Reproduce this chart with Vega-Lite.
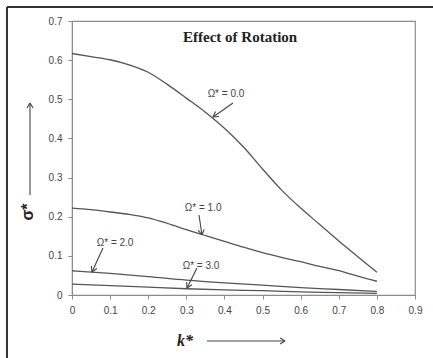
{
  "$schema": "https://vega.github.io/schema/vega-lite/v6.json",
  "width": 343,
  "height": 274,
  "autosize": "none",
  "padding": {"left": 72, "top": 21, "right": 18, "bottom": 63},
  "background": "white",
  "config": {
    "view": {"stroke": "#8c8c8c", "strokeWidth": 1.2},
    "axis": {
      "grid": false,
      "domainColor": "#8c8c8c",
      "tickColor": "#8c8c8c",
      "tickSize": 4,
      "labelFont": "Liberation Sans",
      "labelFontSize": 10,
      "labelColor": "#444",
      "labelPadding": 6,
      "labelOverlap": false,
      "labelFlush": false
    }
  },
  "datasets": {
    "curves": [
      {"omega": "0.0", "k": 0, "s": 0.617}, {"omega": "0.0", "k": 0.05, "s": 0.609}, {"omega": "0.0", "k": 0.1, "s": 0.601}, {"omega": "0.0", "k": 0.15, "s": 0.588}, {"omega": "0.0", "k": 0.2, "s": 0.569}, {"omega": "0.0", "k": 0.25, "s": 0.538}, {"omega": "0.0", "k": 0.3, "s": 0.503}, {"omega": "0.0", "k": 0.35, "s": 0.467}, {"omega": "0.0", "k": 0.4, "s": 0.426}, {"omega": "0.0", "k": 0.45, "s": 0.378}, {"omega": "0.0", "k": 0.5, "s": 0.322}, {"omega": "0.0", "k": 0.55, "s": 0.268}, {"omega": "0.0", "k": 0.6, "s": 0.222}, {"omega": "0.0", "k": 0.65, "s": 0.18}, {"omega": "0.0", "k": 0.7, "s": 0.138}, {"omega": "0.0", "k": 0.75, "s": 0.098}, {"omega": "0.0", "k": 0.8, "s": 0.058},
      {"omega": "1.0", "k": 0, "s": 0.222}, {"omega": "1.0", "k": 0.05, "s": 0.218}, {"omega": "1.0", "k": 0.1, "s": 0.212}, {"omega": "1.0", "k": 0.15, "s": 0.206}, {"omega": "1.0", "k": 0.2, "s": 0.197}, {"omega": "1.0", "k": 0.25, "s": 0.183}, {"omega": "1.0", "k": 0.3, "s": 0.167}, {"omega": "1.0", "k": 0.35, "s": 0.152}, {"omega": "1.0", "k": 0.4, "s": 0.137}, {"omega": "1.0", "k": 0.45, "s": 0.122}, {"omega": "1.0", "k": 0.5, "s": 0.108}, {"omega": "1.0", "k": 0.55, "s": 0.096}, {"omega": "1.0", "k": 0.6, "s": 0.085}, {"omega": "1.0", "k": 0.65, "s": 0.073}, {"omega": "1.0", "k": 0.7, "s": 0.062}, {"omega": "1.0", "k": 0.75, "s": 0.048}, {"omega": "1.0", "k": 0.8, "s": 0.035},
      {"omega": "2.0", "k": 0, "s": 0.062}, {"omega": "2.0", "k": 0.1, "s": 0.055}, {"omega": "2.0", "k": 0.2, "s": 0.047}, {"omega": "2.0", "k": 0.3, "s": 0.038}, {"omega": "2.0", "k": 0.4, "s": 0.031}, {"omega": "2.0", "k": 0.5, "s": 0.025}, {"omega": "2.0", "k": 0.6, "s": 0.019}, {"omega": "2.0", "k": 0.7, "s": 0.014}, {"omega": "2.0", "k": 0.8, "s": 0.009},
      {"omega": "3.0", "k": 0, "s": 0.028}, {"omega": "3.0", "k": 0.1, "s": 0.024}, {"omega": "3.0", "k": 0.2, "s": 0.02}, {"omega": "3.0", "k": 0.3, "s": 0.016}, {"omega": "3.0", "k": 0.4, "s": 0.013}, {"omega": "3.0", "k": 0.5, "s": 0.011}, {"omega": "3.0", "k": 0.6, "s": 0.008}, {"omega": "3.0", "k": 0.7, "s": 0.006}, {"omega": "3.0", "k": 0.8, "s": 0.004}
    ],
    "arrows": [
      {"k": 0.4225, "s": 0.4905, "k2": 0.370, "s2": 0.4548},
      {"k": 0.370, "s": 0.4548, "k2": 0.3857, "s2": 0.456},
      {"k": 0.370, "s": 0.4548, "k2": 0.3765, "s2": 0.4686},
      {"k": 0.3332, "s": 0.2044, "k2": 0.3411, "s2": 0.1533},
      {"k": 0.3411, "s": 0.1533, "k2": 0.3469, "s2": 0.1676},
      {"k": 0.3411, "s": 0.1533, "k2": 0.3314, "s2": 0.1653},
      {"k": 0.0813, "s": 0.1201, "k2": 0.0525, "s2": 0.0588},
      {"k": 0.0525, "s": 0.0588, "k2": 0.0653, "s2": 0.0677},
      {"k": 0.0525, "s": 0.0588, "k2": 0.0509, "s2": 0.0741},
      {"k": 0.328, "s": 0.069, "k2": 0.3018, "s2": 0.0179},
      {"k": 0.3018, "s": 0.0179, "k2": 0.3149, "s2": 0.0263},
      {"k": 0.3018, "s": 0.0179, "k2": 0.3007, "s2": 0.0332},
      {"k": 0.354, "s": -0.1175, "k2": 0.559, "s2": -0.1175},
      {"k": 0.559, "s": -0.1175, "k2": 0.5459, "s2": -0.11},
      {"k": 0.559, "s": -0.1175, "k2": 0.5459, "s2": -0.125},
      {"k": -0.1102, "s": 0.2555, "k2": -0.1102, "s2": 0.4905},
      {"k": -0.1102, "s": 0.4905, "k2": -0.118, "s2": 0.478},
      {"k": -0.1102, "s": 0.4905, "k2": -0.1024, "s2": 0.478}
    ],
    "frame": [
      {"k": -0.1706, "s": -0.17, "k2": -0.1706, "s2": 0.7358},
      {"k": -0.1706, "s": 0.7358, "k2": 0.95, "s2": 0.7358}
    ],
    "labels": [
      {"k": 0.404, "s": 0.5135, "text": "Ω* = 0.0"},
      {"k": 0.344, "s": 0.2223, "text": "Ω* = 1.0"},
      {"k": 0.113, "s": 0.1329, "text": "Ω* = 2.0"},
      {"k": 0.3385, "s": 0.0741, "text": "Ω* = 3.0"}
    ]
  },
  "encoding": {
    "x": {"field": "k", "type": "quantitative", "scale": {"domain": [0, 0.9], "nice": false},
      "axis": {"values": [0, 0.1, 0.2, 0.3, 0.4, 0.5, 0.6, 0.7, 0.8, 0.9], "labelExpr": "datum.value == 0 ? '0' : format(datum.value, '.1f')", "title": null}},
    "y": {"field": "s", "type": "quantitative", "scale": {"domain": [0, 0.7], "nice": false},
      "axis": {"values": [0, 0.1, 0.2, 0.3, 0.4, 0.5, 0.6, 0.7], "labelExpr": "datum.value == 0 ? '0' : format(datum.value, '.1f')", "title": null}}
  },
  "layer": [
    {
      "data": {"name": "curves"},
      "mark": {"type": "line", "interpolate": "monotone", "color": "#555", "strokeWidth": 1.3},
      "encoding": {
        "detail": {"field": "omega"}
      }
    },
    {
      "data": {"name": "arrows"},
      "mark": {"type": "rule", "color": "#444", "strokeWidth": 1.1},
      "encoding": {
        "x2": {"field": "k2"},
        "y2": {"field": "s2"}
      }
    },
    {
      "data": {"name": "frame"},
      "mark": {"type": "rule", "color": "#333", "strokeWidth": 2},
      "encoding": {
        "x2": {"field": "k2"},
        "y2": {"field": "s2"}
      }
    },
    {
      "data": {"name": "labels"},
      "mark": {"type": "text", "font": "Liberation Sans", "fontSize": 10, "color": "#444"},
      "encoding": {
        "text": {"field": "text"}
      }
    },
    {
      "data": {"values": [{"k": 0.441, "s": 0.659, "text": "Effect of Rotation"}]},
      "mark": {"type": "text", "font": "Liberation Serif", "fontSize": 15, "fontWeight": "bold", "color": "#222"},
      "encoding": {
        "text": {"field": "text"}
      }
    },
    {
      "data": {"values": [{"k": 0.2965, "s": -0.1175, "text": "k*"}]},
      "mark": {"type": "text", "font": "Liberation Serif", "fontSize": 16, "fontWeight": "bold", "fontStyle": "italic", "color": "#222"},
      "encoding": {
        "text": {"field": "text"}
      }
    },
    {
      "data": {"values": [{"k": -0.1155, "s": 0.212, "text": "σ*"}]},
      "mark": {"type": "text", "font": "Liberation Sans", "fontSize": 16, "fontWeight": "bold", "angle": 270, "color": "#222"},
      "encoding": {
        "text": {"field": "text"}
      }
    }
  ]
}
